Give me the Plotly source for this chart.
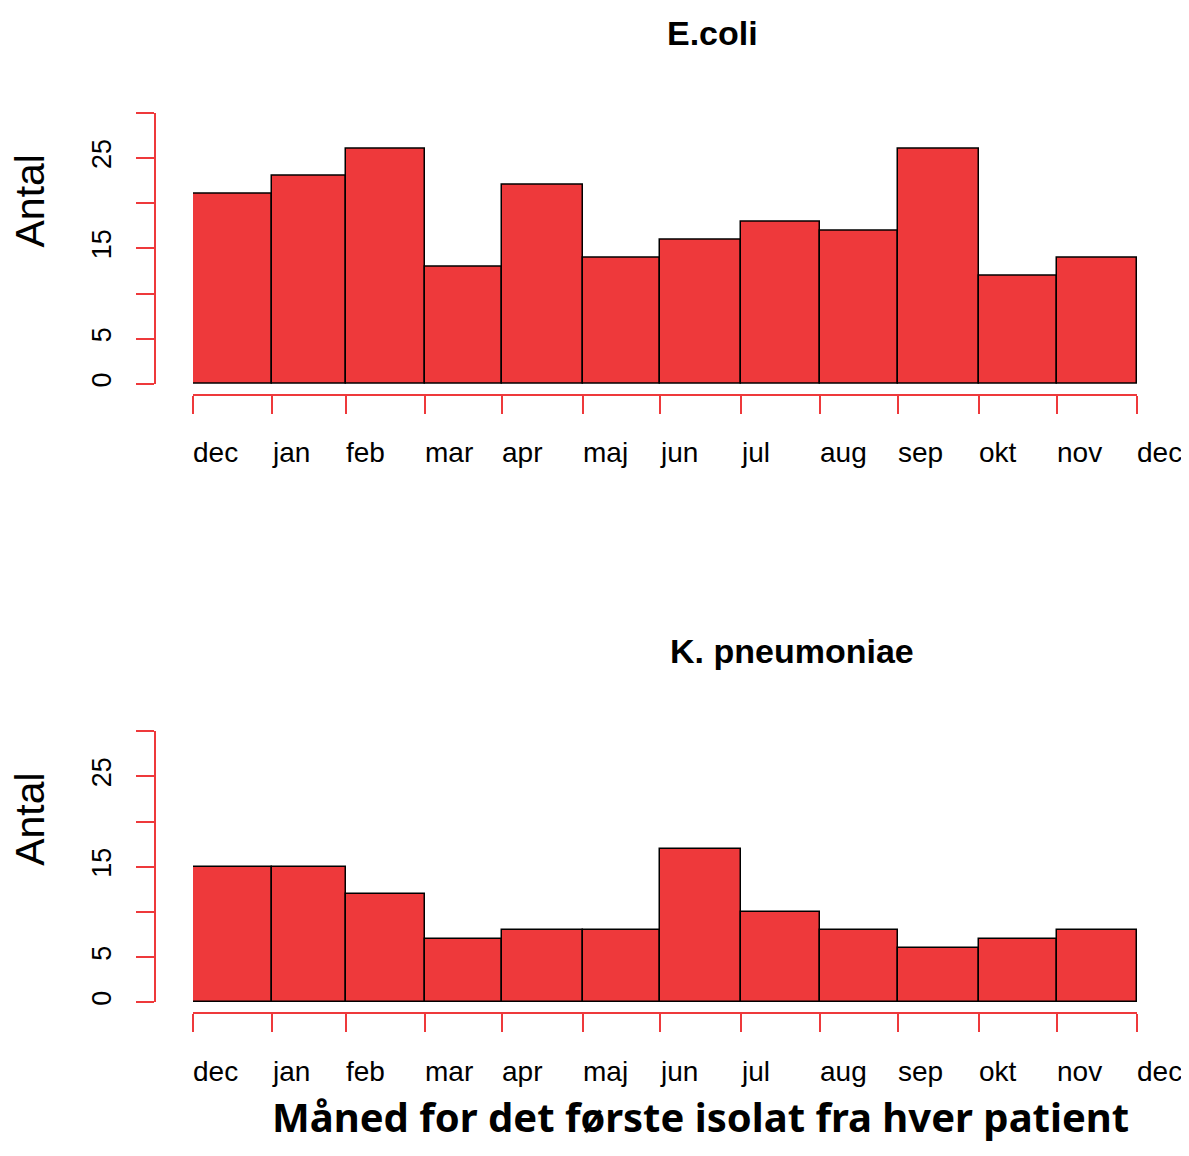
import plotly.graph_objects as go

# Data
months = ["dec", "jan", "feb", "mar", "apr", "maj", "jun", "jul", "aug", "sep", "okt", "nov", "dec"]
bin_edges_days = [0, 30.5, 59.2, 89.7, 119.5, 150.8, 180.6, 211.9, 242.4, 272.6, 303.9, 334.0, 365]
ecoli_counts = [21, 23, 26, 13, 22, 14, 16, 18, 17, 26, 12, 14]
kpneu_counts = [15, 15, 12, 7, 8, 8, 17, 10, 8, 6, 7, 8]
y_tickvals = [0, 5, 10, 15, 20, 25, 30]
y_ticktext = ["0", "5", "", "15", "", "25", ""]

# page has an 8px body margin: figure sized to fit without scrollbars
MARGIN = 8
W, H = 1189 - 2 * MARGIN, 1156 - 2 * MARGIN
BAR = "#EE393B"
AX = "#EE393B"
FONT = "Liberation Sans, Arial, sans-serif"

def px_x(p):
    return (p - MARGIN) / W

def px_y(p):
    return (H - (p - MARGIN)) / H

centers = [(a + b) / 2 for a, b in zip(bin_edges_days[:-1], bin_edges_days[1:])]
widths = [b - a for a, b in zip(bin_edges_days[:-1], bin_edges_days[1:])]

fig = go.Figure()

panels = [
    (ecoli_counts, "E.coli", 0, 712),
    (kpneu_counts, "K. pneumoniae", 620, 792),
]

for i, (counts, title, off, tx) in enumerate(panels):
    xa = "x" if i == 0 else "x2"
    ya = "y" if i == 0 else "y2"
    fig.add_trace(go.Bar(
        x=centers, y=counts, width=widths, xaxis=xa, yaxis=ya,
        marker=dict(color=BAR, line=dict(color="black", width=1.5)),
        showlegend=False, hoverinfo="x+y",
    ))
    xkey = "xaxis" if i == 0 else "xaxis2"
    ykey = "yaxis" if i == 0 else "yaxis2"
    fig.update_layout(**{
        xkey: dict(
            domain=[px_x(193), px_x(1137)], range=[0, 365],
            anchor="free", position=px_y(396 + off),
            showline=True, linecolor=AX, linewidth=1.5,
            ticks="outside", ticklen=18, tickcolor=AX, tickwidth=1.5,
            tickvals=bin_edges_days, showticklabels=False,
            showgrid=False, zeroline=False, fixedrange=True,
        ),
        ykey: dict(
            domain=[px_y(385 + off), px_y(113 + off)], range=[0, 30],
            anchor="free", position=px_x(155),
            showline=True, linecolor=AX, linewidth=1.5,
            ticks="outside", ticklen=18, tickcolor=AX, tickwidth=1.5,
            tickvals=y_tickvals, ticktext=y_ticktext, tickangle=-90,
            ticklabelstandoff=14,
            tickfont=dict(family=FONT, size=27, color="black"),
            showgrid=False, zeroline=False, fixedrange=True,
        ),
    })
    # month labels, left-aligned at each month boundary (R axis.Date style)
    for edge, lab in zip(bin_edges_days, months):
        fig.add_annotation(text=lab, x=edge, xref=xa, y=px_y(454 + off), yref="paper",
                           showarrow=False, xanchor="left", yanchor="middle",
                           xshift=-1, borderpad=0,
                           font=dict(family=FONT, size=28, color="black"))
    fig.add_annotation(text="<b>%s</b>" % title, x=px_x(tx), y=px_y(33 + off),
                       xref="paper", yref="paper", showarrow=False,
                       xanchor="center", yanchor="middle",
                       font=dict(family=FONT, size=34, color="black"))
    fig.add_annotation(text="Antal", x=px_x(30), y=px_y(202 + off),
                       xref="paper", yref="paper", showarrow=False, textangle=-90,
                       xanchor="center", yanchor="middle",
                       font=dict(family=FONT, size=41, color="black"))

fig.add_annotation(text="<b>Måned for det første isolat fra hver patient</b>",
                   x=px_x(700), y=px_y(1148), xref="paper", yref="paper",
                   showarrow=False, xanchor="center", yanchor="bottom",
                   borderpad=0,
                   font=dict(family="Noto Sans, sans-serif", size=40, color="black"))

fig.update_layout(
    width=W, height=H, margin=dict(l=0, r=0, t=0, b=0),
    paper_bgcolor="white", plot_bgcolor="white", bargap=0,
)

fig.write_html("out.html")
